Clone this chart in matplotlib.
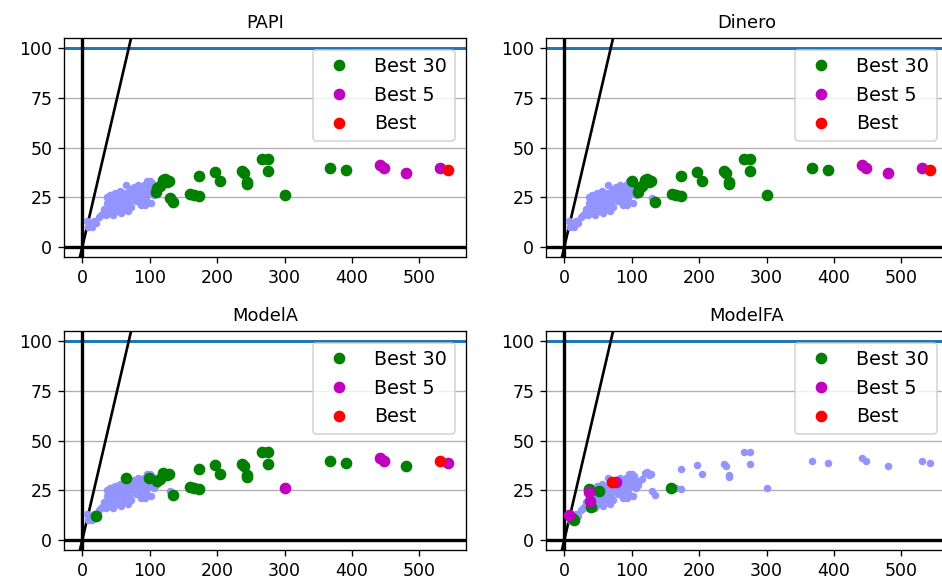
import matplotlib
matplotlib.use("Agg")
import matplotlib.pyplot as plt

# every configuration (same cloud in all four panels)
all_x = [7, 8, 10, 12, 14, 15, 17, 21, 25, 28,
         30, 32, 33, 35, 36, 37, 38, 38, 40, 40, 41, 42, 43, 44, 45, 46, 47,
         48, 49, 50, 51, 52, 52, 53, 54, 55, 56, 57, 58, 59, 60, 61, 62, 63,
         64, 65, 66, 67, 68, 69, 70, 71, 72, 73, 74, 75, 76, 77, 78, 79, 80,
         81, 82, 83, 85, 86, 87, 88, 89, 90, 91, 92, 93, 94, 95, 96, 97, 98,
         99, 100, 101, 102, 103, 104, 106,
         109, 111, 116, 120, 122, 125, 128, 130, 134, 160, 166, 173, 173,
         197, 205, 237, 240, 244, 245, 266, 276, 276, 301, 367, 391, 442,
         448, 480, 530, 542]
all_y = [13, 10, 12, 11, 10, 12, 13, 12, 15, 16,
         17, 19, 18, 16, 22, 25, 19, 24, 21, 17, 26, 17, 26, 22, 20, 16, 23,
         27, 18, 25, 24, 18, 25, 21, 27, 22, 28, 26, 17, 23, 20, 27, 24, 19,
         22, 31, 27, 24, 18, 26, 22, 29, 28, 20, 27, 25, 29, 30, 26, 28, 23,
         29, 27, 31, 29, 24, 21, 28, 25, 26, 29, 31, 21, 27, 24, 33, 28, 30,
         31, 33, 27, 22, 32, 30, 26,
         27.5, 29.8, 30.8, 33.5, 34.2, 32.5, 33.3, 24.5, 22.8, 26.6, 26.1,
         25.5, 35.8, 37.5, 33, 38, 37, 32.8, 31.7, 44, 44, 38, 26.3, 39.5,
         38.7, 41.3, 39.8, 37, 39.5, 38.7]

titles = ["PAPI", "Dinero", "ModelA", "ModelFA"]

# PAPI
papi_b30_x = [109, 111, 116, 120, 122, 125, 128, 130, 134, 160, 166, 173, 173,
              197, 205, 237, 240, 244, 245, 266, 276, 276, 301, 367, 391]
papi_b30_y = [27.5, 29.8, 30.8, 33.5, 34.2, 32.5, 33.3, 24.5, 22.8, 26.6, 26.1,
              25.5, 35.8, 37.5, 33, 38, 37, 32.8, 31.7, 44, 44, 38, 26.3, 39.5, 38.7]
papi_b5_x = [442, 448, 480, 530]
papi_b5_y = [41.3, 39.8, 37, 39.5]
papi_b_x = [542]
papi_b_y = [38.7]

# Dinero
din_b30_x = [100, 109, 111, 116, 120, 122, 125, 128, 134, 160, 166, 173, 173,
             197, 205, 237, 240, 244, 245, 266, 276, 276, 301, 367, 391]
din_b30_y = [33, 27.5, 29.8, 30.8, 33.5, 34.2, 32.5, 33.3, 22.8, 26.6, 26.1,
             25.5, 35.8, 37.5, 33, 38, 37, 32.8, 31.7, 44, 44, 38, 26.3, 39.5, 38.7]
din_b5_x = [442, 448, 480, 530]
din_b5_y = [41.3, 39.8, 37, 39.5]
din_b_x = [542]
din_b_y = [38.7]

# ModelA
ma_b30_x = [21, 65, 99, 111, 116, 120, 125, 128, 134, 160, 166, 173, 173,
            197, 205, 237, 240, 244, 245, 266, 276, 276, 367, 391, 480]
ma_b30_y = [12, 31, 31, 29.8, 30.8, 33.5, 32.5, 33.3, 22.8, 26.6, 26.1,
            25.5, 35.8, 37.5, 33, 38, 37, 32.8, 31.7, 44, 44, 38, 39.5, 38.7, 37]
ma_b5_x = [301, 442, 448, 542]
ma_b5_y = [26.3, 41.3, 39.8, 38.7]
ma_b_x = [530]
ma_b_y = [39.5]

# ModelFA
mfa_b30_x = [12, 14, 37, 39.5, 52, 159]
mfa_b30_y = [11, 10, 25.7, 16.4, 24.8, 26.2]
mfa_b5_x = [7, 36, 38, 76]
mfa_b5_y = [12.7, 24, 19.8, 29]
mfa_b_x = [71]
mfa_b_y = [29]

best = [
    (papi_b30_x, papi_b30_y, papi_b5_x, papi_b5_y, papi_b_x, papi_b_y),
    (din_b30_x, din_b30_y, din_b5_x, din_b5_y, din_b_x, din_b_y),
    (ma_b30_x, ma_b30_y, ma_b5_x, ma_b5_y, ma_b_x, ma_b_y),
    (mfa_b30_x, mfa_b30_y, mfa_b5_x, mfa_b5_y, mfa_b_x, mfa_b_y),
]

slope = 1.45  # reference diagonal through the origin

fig = plt.figure(figsize=(942 / 120, 581 / 120), dpi=120)
positions = [
    [64 / 942, 324 / 581, 402 / 942, 219 / 581],
    [546 / 942, 324 / 581, 402 / 942, 219 / 581],
    [64 / 942, 31 / 581, 402 / 942, 219 / 581],
    [546 / 942, 31 / 581, 402 / 942, 219 / 581],
]

for pos, title, (b30x, b30y, b5x, b5y, bx, by) in zip(positions, titles, best):
    ax = fig.add_axes(pos)
    ax.grid(axis="y", color="#b0b0b0", lw=0.8)
    ax.set_axisbelow(True)
    ax.axhline(100, color="C0", lw=1.8)
    ax.axhline(0, color="k", lw=2)
    ax.axvline(0, color="k", lw=2)
    ax.axline((0, 0), slope=slope, color="k", lw=1.6)

    ax.plot(all_x, all_y, ".", color="#9494ff", ms=7)
    ax.plot(b30x, b30y, "o", color="g", label="Best 30")
    ax.plot(b5x, b5y, "o", color="m", label="Best 5")
    ax.plot(bx, by, "o", color="r", label="Best")

    ax.set_xlim(-27.1, 569.1)
    ax.set_ylim(-5, 105)
    ax.set_xticks([0, 100, 200, 300, 400, 500])
    ax.set_yticks([0, 25, 50, 75, 100])
    ax.tick_params(labelsize=10.4)
    ax.set_title(title, fontsize=10.7)
    ax.legend(loc="upper right", fontsize=11.5, borderaxespad=0.6)

fig.savefig("out.png", dpi=120)
